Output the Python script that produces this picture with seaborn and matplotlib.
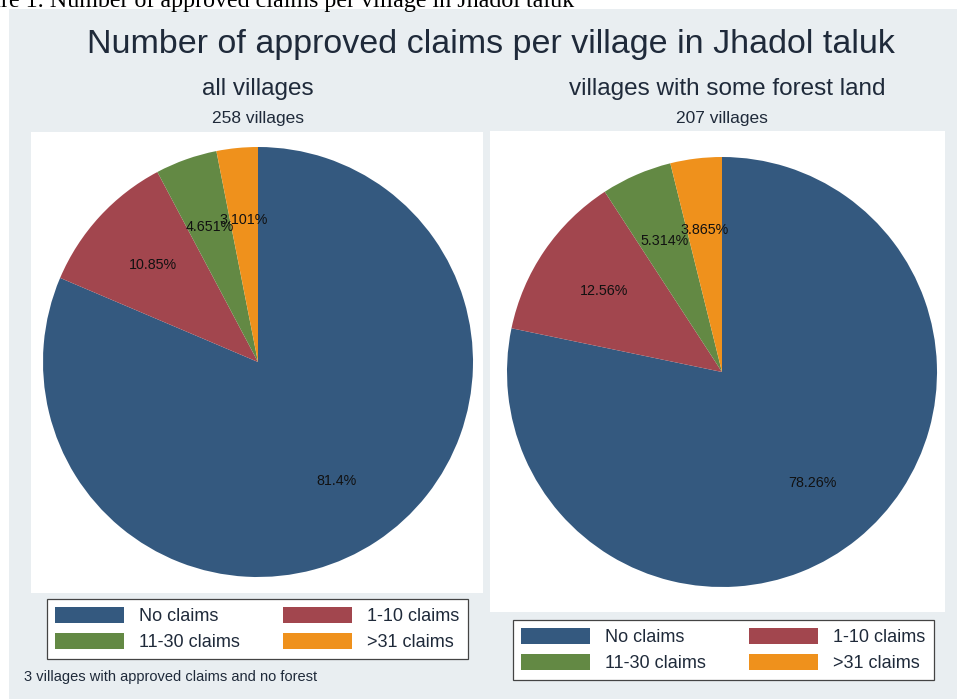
import matplotlib
matplotlib.use("Agg")
import matplotlib.pyplot as plt
from matplotlib.patches import Rectangle, Patch
import seaborn as sns

# data (village counts per claim class)
categories = ["No claims", "1-10 claims", "11-30 claims", ">31 claims"]
all_villages = [210, 28, 12, 8]
forest_villages = [162, 26, 11, 8]
panel_titles = ["all villages", "villages with some forest land"]
panel_counts = ["258 villages", "207 villages"]

W, H = 957, 699
sns.set_theme(style="white")
plt.rcParams['font.family'] = ['Liberation Sans', 'DejaVu Sans']

colors = sns.color_palette(["#34597f", "#a2464e", "#638944", "#ef911c"])
bg = "#e9eef1"
ink = "#1f2a3a"


def fx(x):
    return x / W


def fy(y):
    return 1 - y / H


fig = plt.figure(figsize=(W / 100, H / 100), dpi=100, facecolor="white")

# graph region background and white plot panels
fig.patches.append(Rectangle((fx(9), 0), 1 - fx(9), fy(9), transform=fig.transFigure,
                             facecolor=bg, edgecolor="none", zorder=-10))
for (x0, y0, x1, y1) in [(31, 132, 483, 593), (490, 131, 945, 612)]:
    fig.patches.append(Rectangle((fx(x0), fy(y1)), fx(x1 - x0), (y1 - y0) / H,
                                 transform=fig.transFigure, facecolor="white",
                                 edgecolor="none", zorder=-9))

# cut-off caption from the document above the graph
fig.text(fx(-43), fy(7), "Figure 1. Number of approved claims per village in Jhadol taluk",
         family=['Liberation Serif', 'DejaVu Serif'], fontsize=17.3, color="black",
         ha="left", va="baseline")

fig.text(fx(491), fy(45), "Number of approved claims per village in Jhadol taluk",
         fontsize=24.5, color=ink, ha="center", va="center")

centers = [(258, 362), (722, 372)]
title_x = [258, 727]
radius = 215
datasets = [all_villages, forest_villages]
legend_tops = [(47, 599), (513, 620)]

handles = [Patch(facecolor=c, edgecolor="none") for c in colors]
order = [0, 2, 1, 3]

for i, (values, (cx, cy)) in enumerate(zip(datasets, centers)):
    fig.text(fx(title_x[i]), fy(89), panel_titles[i], fontsize=17.5,
             color=ink, ha="center", va="center")
    fig.text(fx(cx), fy(118), panel_counts[i], fontsize=12.5, color=ink,
             ha="center", va="center")

    ax = fig.add_axes([fx(cx - radius), fy(cy + radius), 2 * radius / W, 2 * radius / H])
    ax.pie(values, colors=colors, startangle=90, counterclock=False,
           autopct=lambda p: f"{p:.4g}%", pctdistance=0.665,
           textprops={"fontsize": 10.3, "color": "#111111"},
           wedgeprops={"linewidth": 0})
    ax.set_xlim(-1, 1)
    ax.set_ylim(-1, 1)
    ax.set_aspect("equal")
    ax.axis("off")

    lx, ly = legend_tops[i]
    leg = fig.legend([handles[k] for k in order], [categories[k] for k in order],
                     ncol=2, loc="upper left",
                     bbox_to_anchor=(fx(lx), fy(ly)),
                     bbox_transform=fig.transFigure, fontsize=13,
                     handlelength=3.8, handleheight=0.95, handletextpad=0.85,
                     columnspacing=2.4, labelspacing=0.45, borderpad=0.45,
                     borderaxespad=0, fancybox=False, framealpha=1,
                     facecolor="white", edgecolor="#444444", labelcolor=ink)
    leg.get_frame().set_linewidth(0.9)

fig.text(fx(24), fy(677), "3 villages with approved claims and no forest",
         fontsize=10.5, color=ink, ha="left", va="center")

fig.savefig("out.png", dpi=100, facecolor="white")
